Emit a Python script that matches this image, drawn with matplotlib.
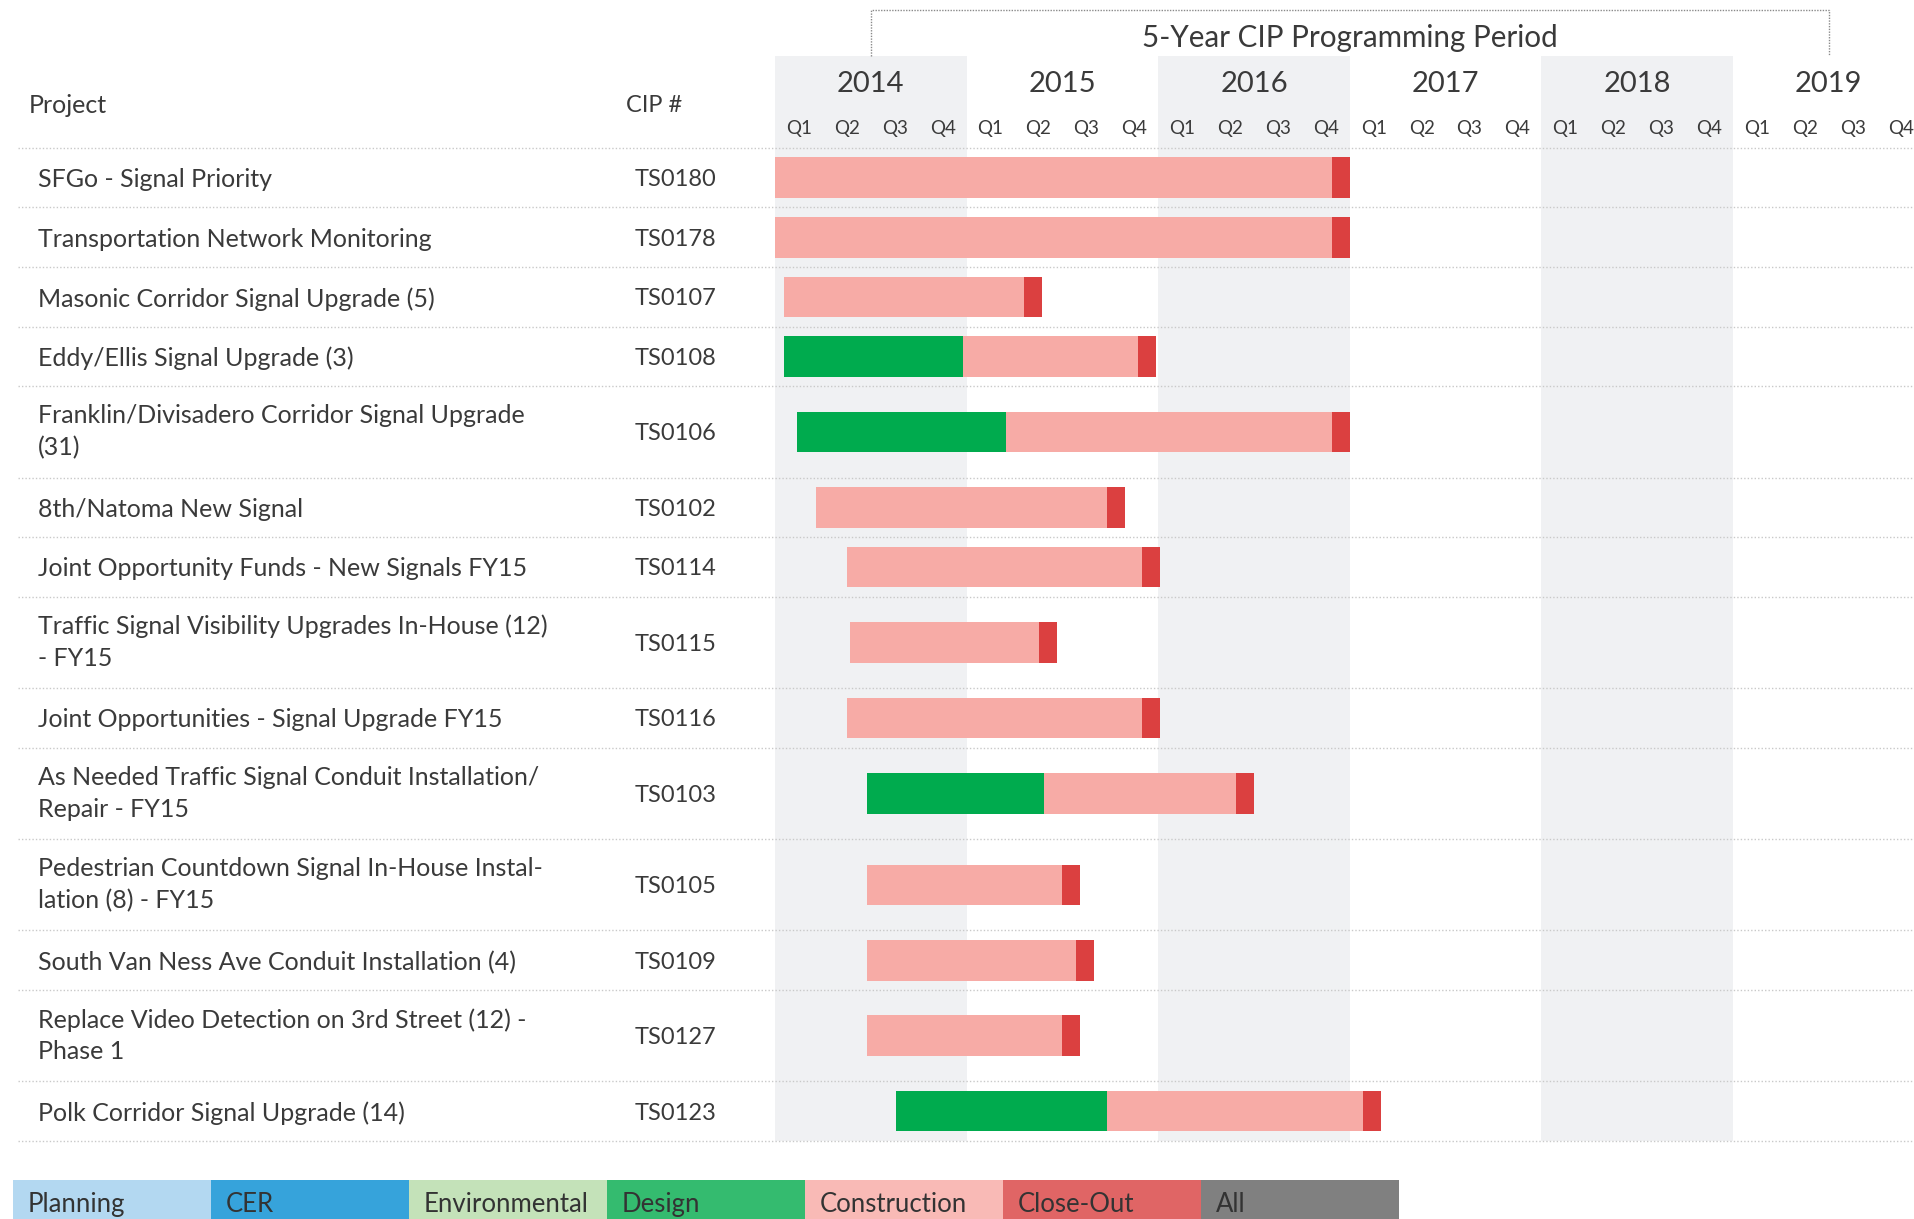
import numpy as np
import matplotlib.pyplot as plt
import matplotlib.transforms as mtransforms
from matplotlib.patches import Rectangle

plt.rcParams['font.family'] = ['Lato', 'DejaVu Sans']

# --- data -------------------------------------------------------------
projects = [
    'SFGo - Signal Priority',
    'Transportation Network Monitoring',
    'Masonic Corridor Signal Upgrade (5)',
    'Eddy/Ellis Signal Upgrade (3)',
    'Franklin/Divisadero Corridor Signal Upgrade\n(31)',
    '8th/Natoma New Signal',
    'Joint Opportunity Funds - New Signals FY15',
    'Traffic Signal Visibility Upgrades In-House (12)\n- FY15',
    'Joint Opportunities - Signal Upgrade FY15',
    'As Needed Traffic Signal Conduit Installation/\nRepair - FY15',
    'Pedestrian Countdown Signal In-House Instal-\nlation (8) - FY15',
    'South Van Ness Ave Conduit Installation (4)',
    'Replace Video Detection on 3rd Street (12) -\nPhase 1',
    'Polk Corridor Signal Upgrade (14)',
]
cip_numbers = ['TS0180', 'TS0178', 'TS0107', 'TS0108', 'TS0106', 'TS0102', 'TS0114',
               'TS0115', 'TS0116', 'TS0103', 'TS0105', 'TS0109', 'TS0127', 'TS0123']

# phase dates as fractional years (nan = phase not shown)
design_start = [np.nan, np.nan, np.nan, 2014.047, 2014.115, np.nan, np.nan,
                np.nan, np.nan, 2014.479, np.nan, np.nan, np.nan, 2014.631]
construction_start = [2014.0, 2014.0, 2014.048, 2014.980, 2015.206, 2014.213, 2014.375,
                      2014.390, 2014.375, 2015.404, 2014.479, 2014.479, 2014.479, 2015.732]
closeout_start = [2016.906, 2016.906, 2015.300, 2015.894, 2016.906, 2015.732, 2015.916,
                  2015.379, 2015.916, 2016.406, 2015.498, 2015.570, 2015.498, 2017.068]
closeout_end = [2017.0, 2017.0, 2015.394, 2015.988, 2017.0, 2015.826, 2016.009,
                2015.472, 2016.009, 2016.499, 2015.592, 2015.664, 2015.592, 2017.162]

years = [2014, 2015, 2016, 2017, 2018, 2019]
quarters = ['Q1', 'Q2', 'Q3', 'Q4']

legend_labels = ['Planning', 'CER', 'Environmental', 'Design', 'Construction', 'Close-Out', 'All']
legend_colors = ['#b3d8f1', '#36a3db', '#c4e2b9', '#34bb6f', '#f9bab6', '#e06565', '#808080']

# --- style ------------------------------------------------------------
c_design = '#00ab4e'
c_constr = '#f7aba6'
c_close = '#db4040'
c_band = '#f0f1f3'
c_text = '#3a3a3a'
c_grid = '#c9c9c9'

W, H = 1915, 1219
fig = plt.figure(figsize=(W / 100, H / 100), dpi=100)

row_px = 59.6          # height of a one-line row in pixels
ax_top, ax_bot, header_bot = 56, 1141, 148
ax_left = 775
year_px = 191.6

ax = fig.add_axes([ax_left / W, 1 - ax_bot / H, (W - ax_left) / W, (ax_bot - ax_top) / H])
ax.set_xlim(2014, 2014 + (W - ax_left) / year_px)

# row layout
heights = [1.535 if '\n' in p else 1.0 for p in projects]
edges = np.concatenate([[0], np.cumsum(heights)])
centers = (edges[:-1] + edges[1:]) / 2
ax.set_ylim(edges[-1], -(header_bot - ax_top) / row_px)
ax.axis('off')

def py(px):
    # pixel row in figure -> y data
    return -(header_bot - px) / row_px

# alternating year bands
for yr in years[::2]:
    ax.axvspan(yr, yr + 1, color=c_band, lw=0, zorder=0)

# header labels
for yr in years:
    ax.text(yr + 0.5, py(82), str(yr), ha='center', va='center_baseline', fontsize=21, color=c_text)
    for qi, q in enumerate(quarters):
        ax.text(yr + qi / 4 + 0.125, py(127), q, ha='center', va='center_baseline',
                fontsize=13.5, color=c_text, clip_on=True)

# 5-year bracket and title
ax.plot([2014.5, 2014.5, 2019.5, 2019.5], [py(56), py(10), py(10), py(56)],
        color='#8a8a8a', lw=1, ls=(0, (1, 1)), clip_on=False)
ax.text(2017.0, py(35), '5-Year CIP Programming Period', ha='center', va='center_baseline',
        fontsize=21.3, color=c_text, clip_on=False)

# dotted separators spanning the table
blend = mtransforms.blended_transform_factory(fig.transFigure, ax.transData)
for e in edges:
    ax.plot([18 / W, 1], [e, e], transform=blend, color=c_grid, lw=1,
            ls=(0, (1, 1.5)), clip_on=False, zorder=1)

# table text
ax.text(29 / W, py(104), 'Project', transform=blend, ha='left', va='center_baseline',
        fontsize=18, color=c_text)
ax.text(626 / W, py(104), 'CIP #', transform=blend, ha='left', va='center_baseline',
        fontsize=17, color=c_text)
for p, c, yc in zip(projects, cip_numbers, centers):
    va = 'center' if '\n' in p else 'center_baseline'
    ax.text(38 / W, yc, p, transform=blend, ha='left', va=va, fontsize=18,
            color=c_text, linespacing=1.45)
    ax.text(635 / W, yc, c, transform=blend, ha='left', va='center_baseline', fontsize=17,
            color=c_text)

# gantt bars
bar_h = 0.68
ds = np.array(design_start)
cs = np.array(construction_start)
os_ = np.array(closeout_start)
oe = np.array(closeout_end)
has_design = ~np.isnan(ds)
ax.barh(centers[has_design], cs[has_design] - ds[has_design], left=ds[has_design],
        height=bar_h, color=c_design, zorder=3)
ax.barh(centers, os_ - cs, left=cs, height=bar_h, color=c_constr, zorder=3)
ax.barh(centers, oe - os_, left=os_, height=bar_h, color=c_close, zorder=3)

# legend strip at the bottom
cell_w = 198
for i, (lab, col) in enumerate(zip(legend_labels, legend_colors)):
    x0 = 13 + i * cell_w
    fig.add_artist(Rectangle((x0 / W, 0), cell_w / W, (H - 1180) / H,
                             transform=fig.transFigure, color=col, lw=0))
    fig.text((x0 + 15) / W, 1 - 1202 / H, lab, ha='left', va='center_baseline',
             fontsize=18.5, color='#333333')

fig.savefig('out.png', dpi=100)
